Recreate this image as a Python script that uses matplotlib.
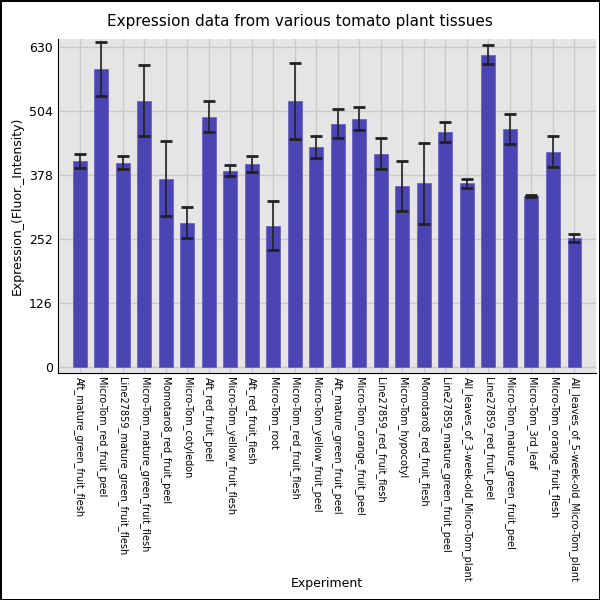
import matplotlib
matplotlib.use("Agg")
import matplotlib.pyplot as plt
import numpy as np

categories = [
    "Aft_mature_green_fruit_flesh", "Micro-Tom_red_fruit_peel",
    "Line27859_mature_green_fruit_flesh", "Micro-Tom_mature_green_fruit_flesh",
    "Momotaro8_red_fruit_peel", "Micro-Tom_cotyledon", "Aft_red_fruit_peel",
    "Micro-Tom_yellow_fruit_flesh", "Aft_red_fruit_flesh", "Micro-Tom_root",
    "Micro-Tom_red_fruit_flesh", "Micro-Tom_yellow_fruit_peel",
    "Aft_mature_green_fruit_peel", "Micro-Tom_orange_fruit_peel",
    "Line27859_red_fruit_flesh", "Micro-Tom_hypocotyl", "Momotaro8_red_fruit_flesh",
    "Line27859_mature_green_fruit_peel", "All_leaves_of_3-week-old_Micro-Tom_plant",
    "Line27859_red_fruit_peel", "Micro-Tom_mature_green_fruit_peel",
    "Micro-Tom_3rd_leaf", "Micro-Tom_orange_fruit_flesh",
    "All_leaves_of_5-week-old_Micro-Tom_plant",
]
values = [406, 587, 402, 524, 370, 284, 493, 386, 400, 278,
          524, 433, 479, 489, 420, 356, 361, 463, 361, 615,
          469, 337, 424, 254]
errors = [14, 53, 13, 70, 74, 31, 31, 11, 16, 49,
          75, 22, 29, 22, 31, 49, 79, 20, 8, 19,
          30, 2, 31, 8]
yticks = [0, 126, 252, 378, 504, 630]

fig = plt.figure(figsize=(6, 6), dpi=100)
fig.patch.set_edgecolor("black")
fig.patch.set_linewidth(2)
ax = fig.add_axes([0.096, 0.379, 0.897, 0.556])
ax.set_facecolor("#e5e5e5")
x = np.arange(len(categories))
ax.bar(x, values, width=0.65, color="#4b44b3", edgecolor="#6a64c4", linewidth=0.6, zorder=2)
ax.errorbar(x, values, yerr=errors, fmt="none", ecolor="#222222", elinewidth=1.2,
            capsize=4.5, capthick=2, zorder=3)
ax.set_xlim(-1.02, len(categories) - 0.01)
ax.set_ylim(-12, 646)
ax.set_yticks(yticks)
ax.set_xticks(x)
ax.set_xticklabels(categories, rotation=270, fontsize=7)
ax.tick_params(axis="both", length=0, labelsize=9)
ax.tick_params(axis="x", labelsize=7, pad=3)
ax.grid(True, color="#c8c8c8", linewidth=1, zorder=0)
ax.set_axisbelow(True)
for s in ["top", "right"]:
    ax.spines[s].set_visible(False)
ax.spines["left"].set_color("black")
ax.spines["bottom"].set_color("black")
ax.set_ylabel("Expression_(Fluor._Intensity)", fontsize=9)
fig.text(0.545, 1 - 584 / 600, "Experiment", fontsize=9, ha="center", va="center")
fig.suptitle("Expression data from various tomato plant tissues", fontsize=11, y=0.977)
fig.savefig("out.png", dpi=100, edgecolor=fig.get_edgecolor())
